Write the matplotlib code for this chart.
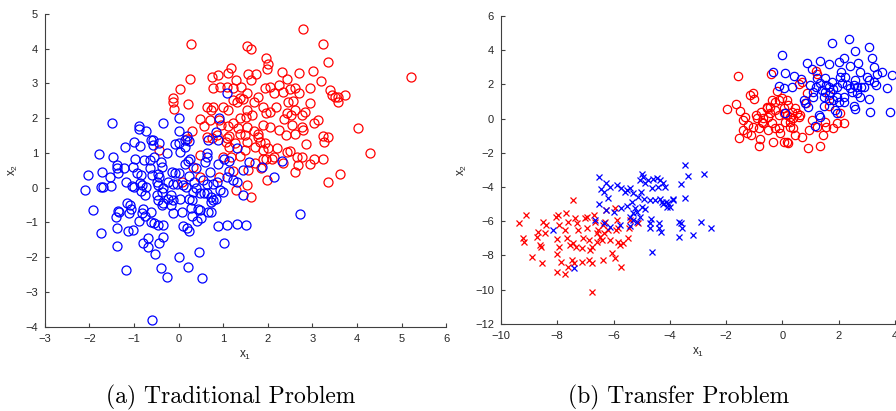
import numpy as np
import matplotlib
matplotlib.use("Agg")
import matplotlib.pyplot as plt

# ---- panel (a): traditional problem ----
red_a_x = [2.80, 0.28, 1.53, 1.62, 3.23, 3.36, 5.21, 1.96, 2.00, 1.98, 1.18, 1.10, 0.88, 0.76, 1.56, 1.74,
           1.62, 1.29, 2.32, 2.44, 2.70, 3.01, 3.19, 0.26, 0.03, -0.12, -0.12, -0.10, 0.22, 0.78, 0.93, 1.08,
           1.23, 1.41, 1.23, 1.30, 1.38, 1.45, 1.53, 1.68, 1.79, 1.94, 2.04, 2.13, 2.24, 2.35, 2.50, 2.61,
           2.70, 2.94, 3.40, 3.44, 3.51, 3.58, 3.57, 3.73, 0.99, 0.78, 0.63, 0.72, 1.11, 1.53, 1.65, 1.50,
           1.38, 1.23, 1.89, 1.97, 2.04, 2.19, 2.46, 2.57, 2.43, 2.61, 2.76, 2.94, 2.84, 0.49, 0.57, 0.70,
           0.91, 0.96, 1.11, 1.33, 1.53, 1.38, 1.49, 1.68, 1.79, 1.90, 2.04, 2.26, 2.41, 2.37, 2.52, 2.55,
           2.76, 2.80, 3.04, 3.12, 2.61, 4.03, 0.31, 0.18, 0.63, 0.76, 0.85, 1.08, 1.14, 1.06, 1.14, 1.27,
           1.53, 1.79, 1.83, 1.94, 1.71, 1.90, 2.01, 2.21, 2.42, 2.50, 2.86, 3.23, 3.25, 3.34, 4.30, -0.43,
           0.48, 0.99, 1.18, 1.38, 1.49, 1.71, 1.90, 1.97, 2.09, 2.13, 2.35, 2.66, 2.76, 2.67, 2.61, 2.94,
           3.04, 3.23, 3.61, 3.36, 0.33, 0.48, 0.91, 1.23, 1.56, 1.84, 1.98, 0.07, 1.29, 1.53, 1.62]
red_a_y = [4.58, 4.13, 4.08, 3.98, 4.14, 3.61, 3.18, 3.72, 3.56, 3.42, 3.44, 3.29, 3.24, 3.20, 3.27, 3.26,
           3.10, 3.10, 3.34, 3.13, 3.29, 3.36, 3.08, 3.12, 2.85, 2.57, 2.48, 2.28, 2.42, 2.86, 2.91, 2.91,
           2.86, 2.89, 2.52, 2.48, 2.57, 2.54, 2.72, 2.48, 2.62, 2.86, 2.91, 2.72, 2.96, 2.76, 2.83, 2.86,
           2.74, 2.86, 2.81, 2.67, 2.62, 2.60, 2.48, 2.67, 2.31, 2.31, 2.33, 2.24, 2.24, 2.24, 2.09, 2.04,
           2.00, 1.85, 2.33, 2.14, 2.19, 2.33, 2.48, 2.50, 2.14, 2.24, 2.09, 2.43, 2.19, 1.97, 1.78, 1.95,
           1.95, 1.80, 1.78, 1.71, 1.76, 1.56, 1.52, 1.64, 1.56, 1.80, 1.76, 1.66, 1.52, 1.99, 2.09, 1.80,
           1.76, 1.66, 1.87, 1.95, 1.56, 1.71, 1.64, 1.39, 1.47, 1.42, 1.52, 1.42, 1.49, 1.32, 1.18, 1.28,
           1.32, 1.45, 1.32, 1.28, 1.18, 1.08, 1.13, 1.13, 1.04, 1.07, 1.26, 1.49, 1.32, 1.45, 0.99, 1.10,
           0.94, 0.89, 0.89, 0.91, 1.10, 0.72, 0.82, 0.82, 0.84, 0.89, 0.70, 0.89, 0.89, 0.65, 0.46, 0.68,
           0.84, 0.83, 0.39, 0.17, 0.60, 0.32, 0.32, 0.49, 0.51, 0.56, 0.22, 0.17, -0.07, 0.08, -0.28]

blue_a_x = [-1.50, -0.89, -0.88, -0.72, -0.36, 0.01, 0.01, 0.91, 1.09, -1.21, -1.00, -0.87, -0.63, -0.57,
            -0.58, -0.43, -0.27, -0.07, 0.01, 0.14, 0.18, 0.23, 0.15, 0.03, 0.84, 0.89, 0.67, 1.31, -1.78,
            -1.48, -0.98, -0.78, -0.64, -0.55, -0.40, -0.37, -1.39, -1.39, -1.35, -1.23, -1.03, -0.93, -0.85,
            -0.64, -0.60, -0.47, -0.43, -0.15, -0.08, 0.01, 0.25, 0.22, 0.14, 0.40, 0.63, 0.63, 0.59, 0.70,
            0.89, 1.02, 1.12, 1.12, 1.08, 1.23, 1.32, 1.45, 1.57, 1.87, 2.31, 2.14, -2.03, -2.10, -1.75,
            -1.71, -1.54, -1.51, -1.69, -1.18, -1.05, -0.99, -0.87, -0.81, -0.72, -0.76, -0.85, -0.49, -0.46,
            -0.34, -0.38, -0.49, -0.23, -0.12, -0.04, 0.09, 0.16, 0.24, 0.34, 0.40, 0.54, 0.63, 0.78, 0.85,
            0.93, 0.99, 0.48, 0.57, 0.63, 0.72, 0.78, 0.72, 0.84, 0.33, 0.24, 0.29, 0.03, -0.18, -0.23, -0.12,
            -0.46, -0.38, -0.34, -0.16, 1.44, -1.93, -1.36, -1.33, -1.41, -1.16, -1.10, -1.06, -1.11, -0.79,
            -0.83, -0.76, -0.61, -0.88, -0.61, -0.55, -0.46, -0.36, -0.13, 0.07, 0.27, 0.29, 0.44, 0.48,
            0.42, 0.51, 0.67, 0.73, 0.09, 0.18, 0.24, 0.89, 1.08, 1.32, 1.50, 2.72, -1.38, -1.13, -1.02,
            -1.75, -1.38, -0.79, -0.69, -0.68, -0.43, -0.36, 1.02, -0.54, 0.01, 0.46, -1.17, -0.40, -0.27,
            0.20, 0.53, -0.59]
blue_a_y = [1.85, 1.78, 1.68, 1.63, 1.85, 2.01, 1.64, 2.00, 2.74, 1.18, 1.31, 1.20, 1.37, 1.37, 1.22, 1.28,
            1.01, 1.25, 1.30, 1.37, 1.49, 1.35, 1.18, 1.04, 1.61, 1.37, 1.37, 1.13, 0.97, 0.89, 0.82, 0.80,
            0.80, 0.89, 0.75, 0.60, 0.65, 0.56, 0.41, 0.56, 0.60, 0.43, 0.36, 0.56, 0.36, 0.39, 0.32, 0.46,
            0.41, 0.43, 0.84, 0.78, 0.68, 0.56, 0.99, 0.89, 0.75, 0.46, 0.68, 0.84, 0.78, 0.49, 0.32, 0.22,
            0.17, 0.51, 0.73, 0.59, 0.78, 0.32, 0.36, -0.07, 0.01, 0.46, 0.30, 0.05, 0.03, 0.17, 0.05, 0.03,
            0.14, 0.08, 0.03, -0.21, -0.09, 0.17, 0.08, -0.02, -0.12, -0.21, 0.17, 0.12, 0.12, 0.08, 0.03,
            0.34, 0.17, -0.02, 0.22, 0.12, 0.12, 0.17, -0.07, -0.12, -0.16, -0.16, -0.14, -0.26, -0.36, -0.40,
            -0.31, -0.12, -0.31, -0.34, -0.31, -0.21, -0.31, -0.36, -0.36, -0.50, -0.43, -0.50, -0.21, -0.64,
            -0.66, -0.69, -0.85, -0.45, -0.50, -0.60, -0.74, -0.60, -0.72, -0.82, -0.71, -0.95, -0.98, -1.01,
            -1.08, -1.07, -0.74, -0.69, -0.57, -0.82, -0.60, -0.64, -0.95, -0.88, -0.69, -0.71, -1.10, -1.17,
            -1.24, -1.10, -1.07, -1.05, -1.07, -0.77, -1.17, -1.24, -1.22, -1.31, -1.67, -1.58, -1.46, -1.70,
            -1.58, -1.41, -1.58, -1.92, -1.99, -1.86, -2.37, -2.30, -2.56, -2.29, -2.61, -3.81]

# ---- panel (b): transfer problem, target domain (circles) ----
red_bo_x = [-1.59, -0.41, 0.69, 0.57, 1.20, 1.22, -0.18, -1.03, -1.17, -1.01, -1.98, -1.66, -1.50, -1.33,
            -1.39, -1.24, -1.39, -1.27, -1.55, -1.11, -0.94, -0.77, -0.68, -1.03, -0.85, -0.73, -0.50, -0.56,
            -0.38, -0.28, -0.14, -0.02, 0.15, 0.21, 0.04, -0.26, -0.44, -0.14, -0.38, -0.50, -0.26, -0.08,
            -0.11, 0.09, 0.27, 0.33, 0.45, 0.51, 0.57, 0.63, 0.39, 0.27, 0.39, 0.45, 0.15, 0.21, 0.04, -0.32,
            -0.79, -0.82, 0.69, 0.92, 1.34, 1.43, 0.96, 1.22, 1.55, 1.81, 1.93, 2.19, 2.03, 1.04, 1.51, 0.84,
            0.86, 1.67, 1.67, -0.56, -0.91, 0.04, 0.15, 0.27, -0.68, -0.44]
red_bo_y = [2.48, 2.61, 2.12, 2.03, 2.81, 2.61, 1.64, 1.52, 1.38, 1.13, 0.55, 0.84, 0.45, 0.12, -0.08,
            -0.37, -0.66, -0.82, -1.11, -0.96, 0.21, 0.41, 0.02, -0.47, -0.57, -0.18, 0.12, 0.70, 1.09, 0.99,
            1.09, 1.19, 1.09, 0.80, 0.60, 0.51, 0.31, 0.21, -0.27, -0.66, -0.57, -0.86, -0.57, -0.18, 0.12,
            0.41, 0.60, 0.31, 0.12, 0.21, 0.02, -0.47, -0.57, -0.96, -1.35, -1.44, -1.35, -1.35, -1.21, -1.60,
            -1.09, -1.73, -1.58, -0.96, -0.66, -0.47, -0.47, -0.57, -0.27, -0.27, 0.31, -0.08, -0.18, 0.90,
            1.48, 0.74, 1.38, 0.60, 0.02, 0.31, 0.21, -0.18, -0.27, 0.70]

blue_bo_x = [2.37, 1.75, 3.06, 2.56, 0.00, 2.17, 3.18, 1.32, 0.86, 1.64, 1.99, 2.41, 2.70, 3.24, 1.04, 2.09,
             2.76, 3.55, 3.89, 3.35, -0.32, 0.09, 0.41, 0.65, 0.04, -0.12, 0.33, 1.22, 1.52, 2.05, 2.23,
             2.59, 3.00, 3.06, 3.24, 3.33, 3.71, 0.98, 1.20, 1.34, 1.55, 1.64, 1.40, 1.52, 1.69, 1.81, 1.93,
             2.11, 2.29, 2.41, 2.53, 2.64, 2.78, 2.88, 2.47, 2.64, 2.76, 3.06, 2.17, 1.93, 1.99, 1.81, 2.17,
             1.46, 1.64, 1.10, 0.75, 0.81, 0.92, 1.46, 1.87, 1.93, 2.53, 2.56, 3.12, 3.83, 1.28, 1.32, 1.16,
             0.09, 1.10, 1.75]
blue_bo_y = [4.66, 4.44, 4.21, 3.98, 3.72, 3.57, 3.53, 3.37, 3.27, 3.20, 3.29, 3.08, 3.27, 3.00, 2.88, 2.75,
             2.75, 2.71, 2.57, 2.61, 2.75, 2.65, 2.50, 2.30, 1.77, 1.91, 1.83, 2.36, 2.36, 2.42, 2.46, 2.26,
             2.46, 2.26, 2.16, 1.97, 1.81, 1.97, 1.83, 2.07, 1.97, 1.83, 1.68, 1.58, 1.58, 1.72, 1.83, 2.07,
             1.97, 1.77, 1.97, 1.83, 1.87, 1.83, 1.58, 1.48, 1.29, 1.15, 1.29, 1.29, 0.99, 1.09, 0.99, 1.29,
             1.09, 1.29, 1.09, 0.90, 0.70, 0.74, 0.51, 0.35, 0.74, 0.55, 0.37, 0.37, 0.21, 0.12, -0.43, 0.31,
             1.58, 2.16]

# ---- panel (b): source domain (crosses) ----
red_bx_x = [-9.36, -9.11, -9.23, -9.18, -8.89, -8.67, -8.71, -8.62, -8.56, -8.53, -8.50, -8.38, -8.44, -8.05,
            -7.96, -7.93, -8.02, -7.93, -8.00, -8.02, -7.88, -7.72, -7.69, -7.61, -7.72, -7.66, -7.54, -7.45,
            -7.37, -7.31, -7.25, -7.43, -7.34, -7.49, -7.40, -7.61, -7.13, -7.10, -7.01, -6.93, -6.86, -6.78,
            -6.84, -7.13, -6.86, -6.78, -6.78, -6.69, -6.66, -6.60, -6.54, -6.48, -6.42, -6.39, -6.33, -6.25,
            -6.31, -6.19, -6.11, -6.07, -5.95, -5.89, -5.83, -5.91, -5.95, -5.85, -5.77, -5.68, -5.74, -5.48,
            -5.45, -5.42, -5.12, -6.60, -6.36, -6.95]
red_bx_y = [-6.12, -5.63, -6.96, -7.19, -8.11, -6.61, -6.90, -7.39, -7.49, -8.46, -6.02, -6.22, -6.70, -5.73,
            -5.63, -6.22, -7.06, -7.49, -7.91, -8.95, -8.36, -9.08, -5.54, -6.02, -6.51, -7.00, -7.39, -4.76,
            -5.81, -6.08, -6.51, -7.29, -7.49, -8.26, -8.46, -8.65, -7.59, -7.00, -5.81, -6.39, -7.08, -7.49,
            -7.68, -8.36, -8.26, -8.46, -10.11, -5.63, -6.02, -6.70, -6.51, -6.90, -7.10, -8.26, -6.70, -5.34,
            -6.02, -6.51, -7.10, -7.88, -5.24, -5.93, -6.41, -6.51, -8.17, -7.19, -7.39, -7.29, -8.65, -7.00,
            -6.41, -5.93, -6.08, -7.19, -6.22, -5.73]

blue_bx_x = [-3.46, -2.79, -3.34, -3.61, -3.46, -6.50, -6.25, -6.43, -6.34, -6.11, -5.87, -5.72, -5.59, -5.53,
             -5.42, -5.32, -5.00, -4.96, -5.06, -4.88, -4.76, -4.58, -4.47, -4.35, -4.23, -4.17, -4.41, -4.64,
             -5.03, -5.12, -4.91, -4.70, -4.52, -4.35, -4.14, -4.06, -3.98, -3.88, -4.11, -4.23, -6.18, -6.50,
             -6.26, -6.00, -5.72, -5.53, -5.36, -5.24, -5.30, -5.18, -5.42, -5.32, -5.18, -5.06, -5.00, -4.88,
             -6.34, -6.11, -5.77, -5.42, -6.66, -8.16, -7.40, -4.70, -4.68, -4.37, -4.32, -4.37, -4.72, -3.66,
             -3.61, -3.57, -3.69, -3.16, -2.89, -2.55, -4.62, -4.29, -3.88]
blue_bx_y = [-2.71, -3.24, -3.33, -3.84, -4.62, -3.39, -3.78, -4.13, -4.27, -4.02, -3.88, -4.07, -4.27, -4.17,
             -4.07, -4.37, -3.24, -3.43, -3.59, -3.74, -3.59, -3.53, -3.49, -3.59, -3.74, -3.98, -3.98, -4.03,
             -4.27, -4.56, -4.72, -4.76, -4.76, -4.72, -4.85, -4.95, -5.15, -4.76, -5.15, -4.99, -4.66, -4.99,
             -5.34, -5.44, -5.24, -5.11, -4.85, -5.24, -5.54, -5.44, -5.73, -5.93, -6.02, -5.73, -5.19, -5.30,
             -6.08, -6.32, -6.22, -6.28, -5.93, -6.51, -8.75, -6.08, -5.89, -6.08, -6.61, -6.41, -6.37, -6.02,
             -6.12, -6.41, -6.94, -6.80, -6.02, -6.41, -7.82, -4.85, -4.72]

captions = ["(a) Traditional Problem", "(b) Transfer Problem"]

plt.rcParams['font.family'] = ['Liberation Sans', 'DejaVu Sans']
plt.rcParams['mathtext.default'] = 'regular'

fig = plt.figure(figsize=(8.96, 4.11), dpi=100)
ax1 = fig.add_axes([0.050, 0.205, 0.448, 0.761])
ax2 = fig.add_axes([0.559, 0.212, 0.440, 0.749])

circ = dict(marker='o', ms=6.5, mfc='none', mew=0.9, ls='none')
ax1.plot(red_a_x, red_a_y, color='#ff0000', **circ)
ax1.plot(blue_a_x, blue_a_y, color='#0000ff', **circ)
ax1.set_xlim(-3, 6)
ax1.set_ylim(-4, 5)
ax1.set_xticks(range(-3, 7))
ax1.set_yticks(range(-4, 6))

circ_b = dict(marker='o', ms=6.0, mfc='none', mew=0.9, ls='none')
cross = dict(marker='x', ms=3.8, mew=0.9, ls='none')
ax2.plot(red_bo_x, red_bo_y, color='#ff0000', **circ_b)
ax2.plot(blue_bo_x, blue_bo_y, color='#0000ff', **circ_b)
ax2.plot(red_bx_x, red_bx_y, color='#ff0000', **cross)
ax2.plot(blue_bx_x, blue_bx_y, color='#0000ff', **cross)
ax2.set_xlim(-10, 4)
ax2.set_ylim(-12, 6)
ax2.set_xticks(range(-10, 5, 2))
ax2.set_yticks(range(-12, 7, 2))

for ax in (ax1, ax2):
    for s in ('top', 'right'):
        ax.spines[s].set_visible(False)
    for s in ('left', 'bottom'):
        ax.spines[s].set_color('#404040')
        ax.spines[s].set_linewidth(0.8)
    ax.tick_params(direction='in', length=3, width=0.8, colors='#404040',
                   labelsize=8, labelcolor='#262626', pad=5)
    ax.set_xlabel('x$_1$', fontsize=8.5, color='#262626', labelpad=4)
    ax.set_ylabel('x$_2$', fontsize=8.5, color='#262626', labelpad=4)

fig.text(0.257, 0.032, captions[0], fontsize=17, family='cmr10', ha='center', va='center')
fig.text(0.757, 0.034, captions[1], fontsize=17, family='cmr10', ha='center', va='center')

fig.savefig('out.png', dpi=100)
